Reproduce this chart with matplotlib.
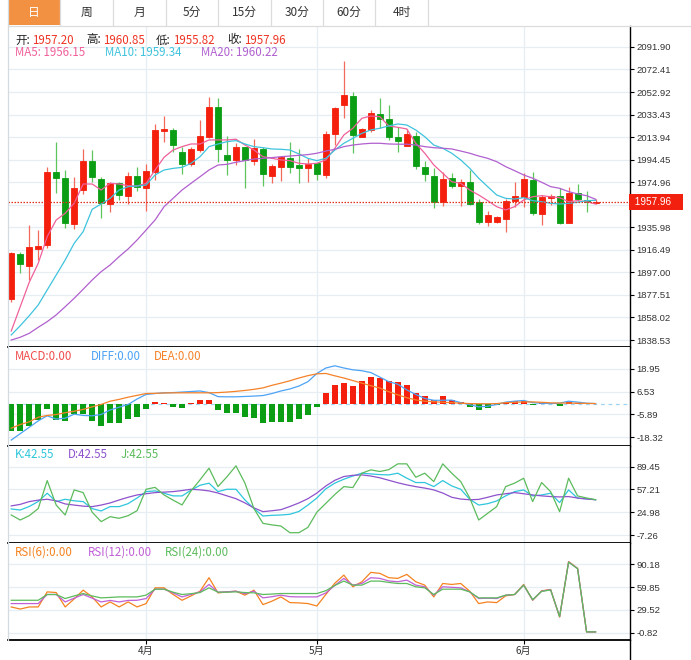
import matplotlib
matplotlib.use('Agg')
import matplotlib.pyplot as plt
from matplotlib.patches import Rectangle
from matplotlib.transforms import blended_transform_factory
import numpy as np

plt.rcParams['font.family'] = ['Noto Sans CJK SC', 'DejaVu Sans']

# daily candles
opens = [1874.0, 1912.9, 1902.8, 1917.5, 1920.4, 1983.8, 1978.6, 1939.1, 1968.5, 1993.0,
         1977.8, 1955.9, 1974.0, 1963.3, 1980.3, 1970.2, 1984.1, 2019.5, 2020.1, 2001.4,
         1990.4, 2002.8, 2013.8, 2040.2, 1998.5, 1994.2, 2005.1, 1993.3, 2003.7, 1980.3,
         1988.4, 1996.2, 1989.8, 1987.5, 1991.3, 1981.2, 2016.6, 2041.7, 2049.5, 2014.3,
         2020.1, 2033.7, 2029.3, 2013.8, 2006.5, 2015.2, 1987.8, 1980.3, 1957.6, 1978.9,
         1971.7, 1974.9, 1958.1, 1940.3, 1940.8, 1942.9, 1959.0, 1962.4, 1976.9, 1947.2,
         1961.6, 1963.3, 1940.0, 1965.4, 1959.6, 1957.20]
highs = [1914.8, 1914.3, 1937.7, 1933.6, 1988.4, 2010.0, 1985.5, 1979.2, 2003.4, 2002.8,
         1979.7, 1975.4, 1974.9, 1984.1, 1987.9, 1990.7, 2025.3, 2032.2, 2021.5, 2005.7,
         2005.7, 2028.8, 2048.9, 2047.4, 2014.9, 2008.6, 2005.7, 2012.0, 2005.1, 1990.7,
         1997.6, 2010.0, 2003.7, 1995.6, 1991.9, 2019.5, 2040.2, 2079.8, 2053.2, 2021.6,
         2037.4, 2048.0, 2041.7, 2022.4, 2021.2, 2018.6, 1993.3, 1987.0, 1984.1, 1982.7,
         1977.7, 1985.5, 1960.5, 1950.3, 1945.8, 1960.2, 1974.9, 1982.7, 1983.5, 1963.9,
         1964.5, 1969.7, 1971.1, 1973.4, 1967.6, 1960.85]
lows = [1871.7, 1896.2, 1890.4, 1907.7, 1917.8, 1965.9, 1935.6, 1934.8, 1964.8, 1975.4,
        1944.3, 1949.5, 1959.6, 1956.1, 1967.6, 1950.3, 1976.9, 2010.0, 2001.4, 1982.1,
        1989.0, 2001.4, 2012.9, 1992.7, 1981.2, 1989.8, 1969.7, 1989.8, 1971.7, 1974.5,
        1976.2, 1983.2, 1974.5, 1975.4, 1976.9, 1978.4, 2007.1, 2030.8, 1999.9, 2013.7,
        2018.6, 2021.5, 2011.5, 2001.4, 2006.0, 1986.1, 1976.0, 1952.4, 1954.7, 1969.7,
        1954.7, 1955.3, 1938.8, 1937.4, 1940.0, 1932.2, 1953.8, 1953.8, 1946.6, 1937.9,
        1955.3, 1938.8, 1939.4, 1959.0, 1949.5, 1955.82]
closes = [1914.0, 1904.0, 1918.9, 1919.8, 1983.8, 1978.6, 1940.0, 1970.0, 1993.3, 1979.2,
          1957.0, 1974.5, 1963.9, 1980.3, 1971.1, 1984.7, 2020.1, 2021.0, 2007.1, 1990.7,
          2003.7, 2014.9, 2040.2, 2003.7, 1994.2, 2005.1, 1994.2, 2004.3, 1982.1, 1989.3,
          1997.0, 1988.4, 1987.5, 1990.7, 1982.1, 2016.6, 2039.4, 2050.4, 2015.8, 2021.0,
          2034.5, 2029.6, 2014.3, 2010.9, 2016.4, 1989.3, 1981.8, 1957.6, 1977.5, 1971.7,
          1975.4, 1956.1, 1940.8, 1946.6, 1944.6, 1959.0, 1963.0, 1977.8, 1948.1, 1962.4,
          1963.3, 1939.4, 1965.9, 1960.2, 1957.6, 1957.96]

ma5 = [1846.3, 1867.3, 1888.4, 1904.8, 1927.9, 1942.3, 1948.1, 1956.7, 1973.4, 1973.4,
       1968.2, 1974.0, 1973.4, 1971.9, 1971.7, 1974.0, 1985.5, 1996.5, 2002.8, 2005.7,
       2008.0, 2008.0, 2011.5, 2011.5, 2011.5, 2012.1, 2007.1, 2002.8, 1997.0, 1995.6,
       1994.2, 1993.6, 1991.3, 1990.7, 1991.3, 1994.2, 2004.3, 2015.8, 2021.6, 2030.2,
       2032.2, 2031.6, 2023.6, 2022.4, 2021.0, 2008.6, 2000.0, 1989.9, 1982.7, 1975.4,
       1974.0, 1968.2, 1963.9, 1959.0, 1953.8, 1951.0, 1953.8, 1959.6, 1962.4, 1963.3,
       1962.4, 1961.6, 1958.1, 1959.0, 1958.1, 1956.15]
ma10 = [1842.9, 1850.9, 1859.5, 1868.8, 1881.8, 1894.7, 1907.7, 1922.1, 1932.2, 1951.5,
        1956.1, 1961.0, 1968.2, 1971.1, 1971.7, 1972.5, 1981.2, 1985.5, 1986.9, 1987.8,
        1991.3, 1997.0, 2005.7, 2008.0, 2010.0, 2010.9, 2008.0, 2005.7, 2004.8, 2003.7,
        2003.4, 2002.8, 1999.4, 1995.6, 1993.6, 1995.6, 2002.8, 2008.6, 2012.9, 2017.2,
        2020.1, 2021.6, 2023.6, 2025.3, 2024.4, 2020.1, 2014.3, 2007.1, 2004.3, 2000.0,
        1994.2, 1987.0, 1978.4, 1971.1, 1963.9, 1961.0, 1960.4, 1961.6, 1959.0, 1958.1,
        1956.7, 1956.1, 1956.7, 1957.6, 1959.0, 1959.34]
ma20 = [1838.5, 1840.9, 1844.3, 1849.5, 1854.4, 1860.2, 1867.3, 1874.6, 1882.4, 1890.4,
        1897.6, 1903.4, 1910.6, 1917.2, 1925.0, 1933.6, 1942.3, 1953.8, 1961.0, 1968.2,
        1974.0, 1979.7, 1985.5, 1989.8, 1990.4, 1992.2, 1993.6, 1995.0, 1995.6, 1996.2,
        1997.0, 1997.6, 1998.2, 1998.8, 2000.0, 2001.9, 2003.4, 2005.7, 2007.1, 2008.0,
        2008.6, 2008.6, 2008.0, 2007.8, 2007.8, 2007.1, 2005.7, 2004.8, 2004.3, 2003.7,
        2001.9, 2000.0, 1997.6, 1995.6, 1992.7, 1988.4, 1984.9, 1981.2, 1978.4, 1974.9,
        1971.1, 1969.7, 1966.8, 1964.8, 1963.3, 1960.22]

macd_hist = [-15.3, -15.3, -12.1, -9.0, -2.8, -9.0, -9.7, -5.6, -5.6, -9.3,
             -12.1, -10.7, -10.7, -8.4, -7.5, -3.2, 0.9, 0.2, -1.9, -2.2,
             0.2, 1.9, 1.9, -3.7, -5.0, -5.0, -7.5, -8.0, -10.7, -9.9,
             -9.9, -10.3, -8.4, -6.2, -1.9, 5.6, 10.3, 11.2, 9.7, 12.5,
             14.6, 14.0, 12.5, 11.8, 10.3, 6.0, 4.1, 2.2, 4.1, 2.2,
             0.9, -1.9, -3.4, -2.2, -0.9, 0.4, 1.5, 1.5, -0.9, 0.1,
             -0.4, -1.5, 0.9, 0.3, 0.1, 0.0]
diff = [-20.0, -16.5, -13.0, -9.5, -6.7, -8.5, -8.0, -5.8, -6.5, -6.7,
        -6.0, -3.5, -2.0, -0.5, 2.5, 5.0, 5.5, 5.9, 6.0, 6.3,
        6.6, 6.9, 6.0, 3.8, 3.7, 3.7, 3.9, 4.1, 4.4, 5.5,
        6.9, 8.0, 9.6, 12.0, 16.5, 19.5, 20.7, 19.5, 18.5, 18.0,
        17.0, 14.5, 12.0, 10.6, 7.5, 5.0, 2.8, 1.8, 1.8, 1.9,
        0.5, -0.6, -1.8, -1.5, -0.5, 0.8, 1.3, 1.7, 0.5, 0.2,
        0.0, 0.2, 1.3, 0.8, 0.2, 0.0]
dea = [-13.5, -11.5, -10.0, -7.5, -6.5, -6.0, -5.0, -4.2, -3.2, -1.8,
       -0.5, 1.3, 2.3, 3.5, 4.5, 5.5, 5.6, 5.8, 5.9, 5.9,
       5.9, 5.9, 5.9, 6.0, 6.3, 6.7, 7.2, 7.8, 8.6, 10.0,
       11.2, 12.5, 14.0, 15.3, 16.3, 16.5, 15.2, 14.0, 12.6, 11.2,
       9.8, 8.5, 6.5, 4.8, 3.2, 2.0, 1.3, 1.0, 0.7, 0.5,
       0.2, 0.0, -0.1, -0.1, 0.0, 0.5, 0.7, 0.9, 0.9, 0.7,
       0.4, 0.3, 0.3, 0.2, 0.1, 0.0]

k_vals = [29.5, 28, 33, 40, 51.7, 39.9, 43.2, 41, 39.9, 30,
          26.7, 32.8, 32.8, 37, 45, 54, 55, 51.7, 48, 47.9,
          56, 63, 65.9, 54, 57.3, 57.3, 42.2, 30, 19.6, 20.5,
          21, 22, 26, 35, 45, 58, 66, 71.5, 76, 80,
          79, 78, 77.6, 80, 73, 66.8, 66.8, 61.1, 69.6, 62,
          57.3, 43.2, 35, 37, 40.8, 48, 54, 56.4, 47.9, 49.3,
          51.7, 38.5, 56.4, 44.6, 44, 42.55]
d_vals = [33.8, 36, 39.9, 42, 43.2, 41, 36.6, 35, 33.5, 32.8,
          35, 38, 42.2, 46, 49.3, 51, 52.6, 53.3, 54, 55.5,
          57.3, 56.5, 55, 52, 48, 44, 38, 31, 25.7, 27,
          28.5, 33, 38, 44, 52, 62, 70, 75.3, 77, 77.6,
          76, 73.5, 70, 66.5, 63.5, 61, 59, 56.4, 52, 46,
          43.5, 42.5, 43, 46, 49.3, 51, 52.6, 51, 49.3, 48,
          47, 46.5, 47, 45, 43.5, 42.55]
j_vals = [21, 13.9, 20, 30, 69.6, 35, 21, 56.4, 52.6, 25,
          11.6, 18.6, 16.3, 20, 27.1, 57.3, 60, 49.3, 42, 35.2,
          55, 70.6, 87.1, 61.1, 75, 90.4, 65.9, 30, 9.2, 7,
          5.4, -4, -4, 3.5, 25, 37.5, 50, 61.1, 59.7, 80,
          84.7, 82.4, 85, 93.2, 93.2, 74.3, 80, 68.2, 93.2, 80,
          68.2, 45, 13.9, 23.4, 32.8, 61.1, 66, 72.9, 39.9, 66.8,
          54, 25.7, 72.9, 47.9, 45, 42.55]

rsi6 = [33.3, 30.5, 33.3, 33.3, 53.4, 52.5, 33.3, 44, 55.7, 46.7,
        33.3, 40, 33.3, 40, 33.3, 37.8, 58.8, 58.8, 50, 42.2,
        48, 54.3, 72.3, 52, 53.4, 54.3, 49, 55.7, 36.4, 41,
        46.7, 39.1, 38.7, 37.8, 34.6, 50, 65, 75.8, 60.2, 66.9,
        79.4, 78.1, 72.3, 71.4, 76.7, 66.9, 62.4, 46.7, 64.6, 63.3,
        64.6, 54.3, 37.8, 40, 39.1, 48.1, 49.9, 63.3, 42.2, 54.8,
        56.6, 19.8, 93.8, 84.8, 0, 0]
rsi12 = [37.8, 37.8, 37.8, 37.8, 49.9, 49.9, 40, 45, 49.9, 45,
         40, 42, 40, 42, 42.2, 44.5, 57, 57, 52, 46.7,
         50, 53.4, 63.3, 53, 53.5, 54.3, 51, 54.3, 45.4, 47,
         49, 47, 46.7, 46.7, 46.7, 52, 62, 71.4, 62.4, 64.6,
         72.3, 71.4, 68, 66.9, 69.1, 62.4, 60.2, 49, 60.2, 59.5,
         58.8, 53.4, 44.5, 45, 44.5, 49, 49.9, 62.4, 42.6, 54.4,
         56.3, 20.2, 93.4, 84.5, 0, 0]
rsi24 = [42.2, 42.2, 42.2, 42.2, 49.9, 49.9, 44.5, 48, 51.2, 48,
         45.4, 46, 46.7, 46.7, 46.7, 49, 57, 57, 53, 49.9,
         51, 52.5, 58.8, 53, 53, 53.4, 52.5, 52.1, 49.9, 50.5,
         51.2, 51.2, 51.2, 51.2, 51.2, 55, 62, 67.8, 62.4, 62.4,
         67.8, 67.8, 66, 64.6, 64.6, 60.2, 58.8, 49.9, 57, 57,
         57, 53.4, 45.4, 45.4, 45.4, 49, 49.9, 62.4, 43, 54,
         56, 20.5, 93, 84.3, 0, 0]

month_idx = [15, 34, 57]
month_labels = ['4月', '5月', '6月']
price_ticks = [2091.90, 2072.41, 2052.92, 2033.43, 2013.94, 1994.45, 1974.96,
               1935.98, 1916.49, 1897.00, 1877.51, 1858.02, 1838.53]
price_grid_hidden = [1955.47]  # gridline whose label sits under the last-price tag
macd_ticks = [18.95, 6.53, -5.89, -18.32]
kdj_ticks = [89.45, 57.21, 24.98, -7.26]
rsi_ticks = [90.18, 59.85, 29.52, -0.82]
tabs = ['日', '周', '月', '5分', '15分', '30分', '60分', '4时']

RED = '#f41f0c'
GREEN = '#0b9e14'
RED_W = '#f26a5c'
GREEN_W = '#5cc65c'
GRID = '#e6edf3'
VAL_RED = '#ee3524'

W, H = 691, 660
fig = plt.figure(figsize=(W / 100, H / 100), dpi=100)
fig.patch.set_facecolor('white')

X0, X1 = 8, 630
XLIM = (-0.36, 68.83)
idx = np.arange(len(closes))


def px_axes(y0, y1):
    return fig.add_axes([X0 / W, 1 - y1 / H, (X1 - X0) / W, (y1 - y0) / H])


def style(ax, ticks, ylim):
    ax.set_xlim(*XLIM)
    ax.set_ylim(*ylim)
    for s in ['top', 'left']:
        ax.spines[s].set_visible(False)
    ax.spines['right'].set_color('black')
    ax.spines['right'].set_linewidth(1.0)
    ax.spines['bottom'].set_color('black')
    ax.spines['bottom'].set_linewidth(1.3)
    ax.yaxis.tick_right()
    ax.set_yticks(ticks)
    ax.set_yticklabels(['%.2f' % t for t in ticks], fontsize=6.8,
                       family='Liberation Sans', color='#333333')
    ax.tick_params(axis='y', length=3, width=0.8, pad=1.5, color='black')
    ax.tick_params(axis='x', length=0, labelbottom=False)
    for t in ticks:
        ax.axhline(t, color=GRID, lw=0.9, zorder=0)
    for m in month_idx:
        ax.axvline(m, color=GRID, lw=0.9, zorder=0)


# ---- price panel
ax = px_axes(26, 347)
style(ax, price_ticks, (1832.48, 2110.0))
for t in price_grid_hidden:
    ax.axhline(t, color=GRID, lw=0.9, zorder=0)
up = [c >= o for o, c in zip(opens, closes)]
cols = [RED if u else GREEN for u in up]
wcols = [RED_W if u else GREEN_W for u in up]
ax.vlines(idx, lows, highs, colors=wcols, lw=0.9, zorder=2)
ax.bar(idx, np.array(closes) - np.array(opens), bottom=opens, width=0.66,
       color=cols, edgecolor=cols, linewidth=0.6, zorder=3)
ax.plot(idx, ma5, color='#f0609a', lw=0.9, zorder=4)
ax.plot(idx, ma10, color='#3fc3dd', lw=0.9, zorder=4)
ax.plot(idx, ma20, color='#b160cf', lw=0.9, zorder=4)
ax.axhline(closes[-1], color='#e0301e', lw=0.9, ls=(0, (1.2, 1.2)), zorder=5)
tr = blended_transform_factory(ax.transAxes, ax.transData)
ax.text(1.004, closes[-1], ' %.2f   ' % closes[-1], transform=tr, color='white',
        fontsize=7.2, family='Liberation Sans', va='center', ha='left', clip_on=False,
        zorder=10, bbox=dict(boxstyle='square,pad=0.3', fc='#f2210f', ec='none'))

# ---- MACD panel
ax2 = px_axes(347, 446)
style(ax2, macd_ticks, (-23.25, 31.0))
hcols = [RED if v > 0 else GREEN for v in macd_hist]
ax2.axhline(0, color='#9fd4f2', lw=0.9, ls=(0, (3, 3)), zorder=1)
ax2.bar(idx, macd_hist, width=0.66, color=hcols, zorder=2)
ax2.plot(idx, diff, color='#4da3f5', lw=0.9, zorder=3)
ax2.plot(idx, dea, color='#f5822a', lw=0.9, zorder=3)

# ---- KDJ panel
ax3 = px_axes(446, 543)
style(ax3, kdj_ticks, (-18.55, 118.4))
ax3.plot(idx, k_vals, color='#2ec6dc', lw=0.9)
ax3.plot(idx, d_vals, color='#8e52cc', lw=0.9)
ax3.plot(idx, j_vals, color='#5cbb5c', lw=0.9)

# ---- RSI panel
ax4 = px_axes(543, 640)
style(ax4, rsi_ticks, (-10.8, 118.6))
ax4.plot(idx, rsi6, color='#f5821f', lw=0.9)
ax4.plot(idx, rsi12, color='#c060d6', lw=0.9)
ax4.plot(idx, rsi24, color='#5cbb5c', lw=0.9)
ax4.set_xticks(month_idx)
ax4.set_xticklabels(month_labels, fontsize=7.2, color='#333333')
ax4.tick_params(axis='x', length=3, width=0.8, pad=1.5, labelbottom=True, color='black')

# ---- decorations in pixel coords
deco = fig.add_axes([0, 0, 1, 1])
deco.set_xlim(0, W)
deco.set_ylim(H, 0)
deco.axis('off')
deco.patch.set_alpha(0)
deco.set_zorder(6)

edges = [8, 60, 113, 166, 218, 271, 323, 375, 428]
deco.add_patch(Rectangle((9, 0), 51, 24.5, color='#f39142', lw=0))
for i, name in enumerate(tabs):
    cx = (edges[i] + edges[i + 1]) / 2
    deco.text(cx, 12.5, name, ha='center', va='center', fontsize=8.5,
              color='white' if i == 0 else '#333333')
for e in edges[1:]:
    deco.plot([e, e], [0, 25], color='#dcdcdc', lw=0.9)
deco.plot([8, W], [25.5, 25.5], color='#dcdcdc', lw=0.9)
deco.plot([8, 8], [0, 640], color='#d3dae0', lw=0.9)
deco.plot([X1, X1], [640, H], color='black', lw=1.0)


def label_row(y, items, size=8.3):
    for x, s, c in items:
        deco.text(x, y, s, color=c, fontsize=size, ha='left', va='center')


label_row(40, [(15, '开:', '#222222'), (32, '%.2f' % opens[-1], VAL_RED),
               (86, '高:', '#222222'), (103, '%.2f' % highs[-1], VAL_RED),
               (156, '低:', '#222222'), (173, '%.2f' % lows[-1], VAL_RED),
               (227, '收:', '#222222'), (244, '%.2f' % closes[-1], VAL_RED)])
label_row(53, [(15, 'MA5: %.2f' % ma5[-1], '#f0609a'),
               (105, 'MA10: %.2f' % ma10[-1], '#3fc3dd'),
               (201, 'MA20: %.2f' % ma20[-1], '#b160cf')])
label_row(357, [(15, 'MACD:%.2f' % macd_hist[-1], '#f04b4b'),
                (91, 'DIFF:%.2f' % diff[-1], '#4da3f5'),
                (154, 'DEA:%.2f' % dea[-1], '#f5822a')])
label_row(455, [(15, 'K:%.2f' % k_vals[-1], '#2ec6dc'),
                (68, 'D:%.2f' % d_vals[-1], '#8e52cc'),
                (121, 'J:%.2f' % j_vals[-1], '#5cbb5c')])
label_row(552, [(15, 'RSI(6):%.2f' % rsi6[-1], '#f5821f'),
                (88, 'RSI(12):%.2f' % rsi12[-1], '#c060d6'),
                (165, 'RSI(24):%.2f' % rsi24[-1], '#5cbb5c')])

fig.savefig('out.png', dpi=100, facecolor='white')
